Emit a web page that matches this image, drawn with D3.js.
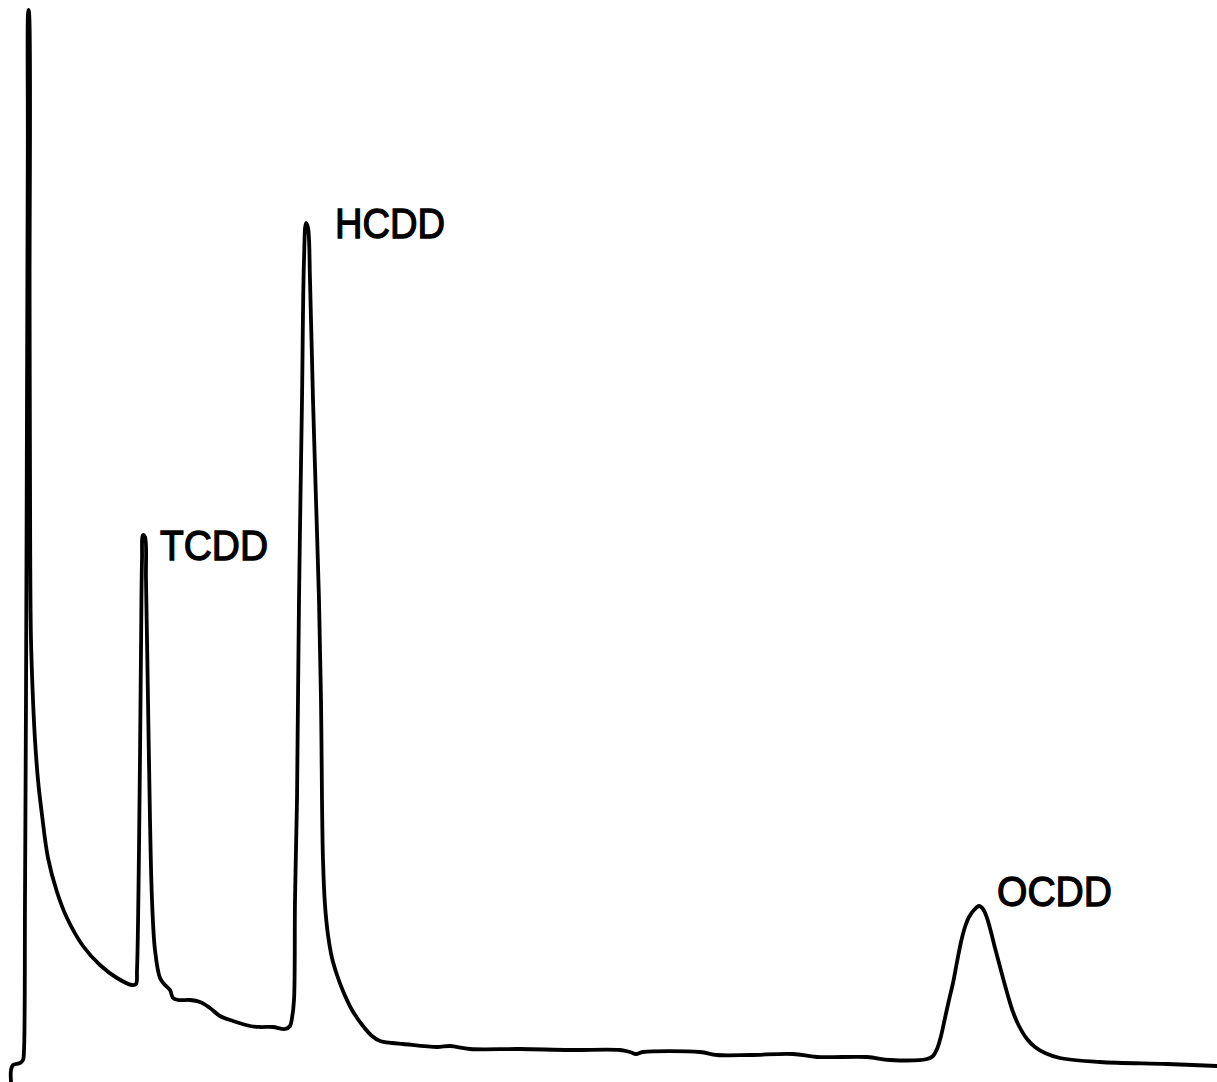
<!DOCTYPE html>
<html>
<head>
<meta charset="utf-8">
<script src="https://cdn.jsdelivr.net/npm/d3@7"></script>
<style>
  html, body { margin: 0; padding: 0; background: #fff; }
  svg { display: block; }
</style>
</head>
<body>
<svg id="chart" width="1217" height="1082"></svg>
<script>
// Retention time (chart units) and detector response of the chromatogram trace
const retentionTime = [11,11,13,20,23,24,25,26,27,27.8,28.4,29,29.6,30.2,31,33,35,38,42,48,57,67,83,100,117,132,136,137,139,141,142,143,145,146,148,150,152,155,160,165,170,173,178,190,200,210,220,233,250,260,273,285,290,292,294,295,297,299,302,304,306,308,310,313,316,319,321,322,323,325,328,332,337,343,352,363,372,380,392,403,437,450,470,520,570,620,630,636,643,700,717,750,793,817,867,890,927,933,937,941,945,949,953,957,961,965,969,974,979,983,987,991,995,999,1003,1008,1013,1019,1027,1035,1045,1060,1100,1167,1217];
const response = [0,12,17,19,22,32,182,382,682,932,1072,1070,782,532,442,382,342,302,267,224,190,164,136,117,104,97,98,112,232,432,522,547,545,502,382,262,182,132,104,97,92,84,82,82,80,74,66,61,56,55,55,53,56,64,82,182,282,482,682,822,859,854,802,682,582,482,382,282,222,177,147,124,107,91,72,56,46,41,39,38,35,36,33,33,32,32,30,28,30,30,27,27,28,25,25,22,23,26,33,46,64,82,99,120,140,155,165,172,176,173,164,150,134,119,104,86,70,56,43,35,29,24,20,18,16];

// Peaks: names and apex retention times / responses
const peakNames = ["TCDD", "HCDD", "OCDD"];
const peakTimes = [143, 306, 979];
const peakHeights = [547, 859, 176];

// layout (label offsets from apex, in px)
const labelOffsets = [[17, 25], [29, 15], [18, 0]];
const labelWidths = [108, 110, 115];

const W = 1217, H = 1082;
const svg = d3.select("#chart");
svg.append("rect").attr("width", W).attr("height", H).attr("fill", "#fff");

const x = d3.scaleLinear().domain([0, 1217]).range([0, W]);
const y = d3.scaleLinear().domain([0, 1082]).range([H, 0]);

const pts = retentionTime.map((t, i) => [t, response[i]]);

const line = d3.line()
  .x(d => x(d[0]))
  .y(d => y(d[1]))
  .curve(d3.curveCatmullRom.alpha(0.5));

svg.append("path")
  .datum(pts)
  .attr("d", line)
  .attr("fill", "none")
  .attr("stroke", "#000")
  .attr("stroke-width", 3.8)
  .attr("stroke-linejoin", "round")
  .attr("stroke-linecap", "round");

svg.selectAll("text.peak")
  .data(peakNames)
  .join("text")
  .attr("class", "peak")
  .attr("x", (d, i) => x(peakTimes[i]) + labelOffsets[i][0])
  .attr("y", (d, i) => y(peakHeights[i]) + labelOffsets[i][1])
  .attr("textLength", (d, i) => labelWidths[i])
  .attr("lengthAdjust", "spacingAndGlyphs")
  .attr("font-family", "Liberation Sans, Arial, sans-serif")
  .attr("font-size", 42)
  .attr("fill", "#000")
  .attr("stroke", "#000")
  .attr("stroke-width", 1.3)
  .text(d => d);
</script>
</body>
</html>
